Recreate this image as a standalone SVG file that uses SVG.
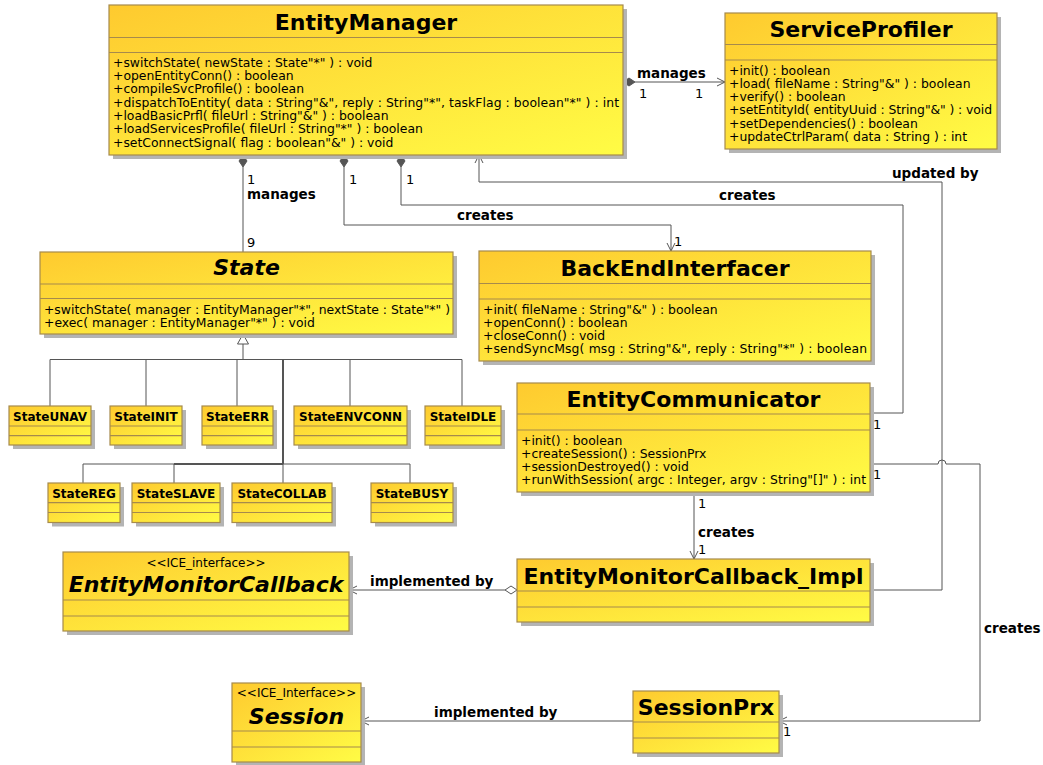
<svg xmlns="http://www.w3.org/2000/svg" width="1043" height="765" viewBox="0 0 1043 765">
<defs>
<linearGradient id="g" x1="0" y1="0" x2="1" y2="1">
<stop offset="0" stop-color="#FECA2F"/>
<stop offset="1" stop-color="#FFFC45"/>
</linearGradient>
<style>
.box{fill:url(#g);stroke:#A68A4C;stroke-width:1.2}
.sh{fill:#B4B4B4}
.sep{stroke:#A68A4C;stroke-width:1.2}
.t{font-family:"DejaVu Sans",sans-serif;font-size:22px;font-weight:bold;text-anchor:middle;fill:#000}
.ti{font-style:italic}
.m{font-family:"DejaVu Sans",sans-serif;font-size:12.4px;fill:#000}
.s{font-family:"DejaVu Sans",sans-serif;font-size:12px;fill:#000;text-anchor:middle}
.sb{font-family:"DejaVu Sans",sans-serif;font-size:12px;font-weight:bold;fill:#000;text-anchor:middle}
.l{font-family:"DejaVu Sans",sans-serif;font-size:13.5px;font-weight:bold;fill:#000}
.n{font-family:"DejaVu Sans",sans-serif;font-size:13px;fill:#000}
.c{fill:none;stroke:#555;stroke-width:1}
.c2{fill:none;stroke:#555;stroke-width:2}
.fd{fill:#555;stroke:#555;stroke-width:1}
.od{fill:#fff;stroke:#555;stroke-width:1}
</style>
</defs>
<rect width="1043" height="765" fill="#fff"/>

<g id="connectors">
<!-- EM -> SP manages -->
<path class="c" d="M635,82 H725"/>
<path class="fd" d="M623,82 L629,78 L635,82 L629,86 Z"/>
<path class="c" d="M717,78 L725,82 L717,86"/>
<text class="l" x="637" y="77.5">manages</text>
<text class="n" x="639" y="97.5">1</text>
<text class="n" x="695" y="97.5">1</text>
<!-- EM -> State manages -->
<path class="c" d="M243,167 V252"/>
<path class="fd" d="M243,155 L247,161 L243,167 L239,161 Z"/>
<text class="n" x="247" y="183.5">1</text>
<text class="l" x="247" y="198.5">manages</text>
<text class="n" x="247" y="246.5">9</text>
<!-- EM -> BEI creates -->
<path class="c" d="M344,167 V225 H671 V251"/>
<path class="fd" d="M344,155 L348,161 L344,167 L340,161 Z"/>
<path class="c" d="M667,243 L671,251 L675,243"/>
<text class="n" x="349" y="183.5">1</text>
<text class="l" x="457" y="219.5">creates</text>
<text class="n" x="674" y="246">1</text>
<!-- EM -> EC creates -->
<path class="c" d="M401,167 V205 H903 V413 H870"/>
<path class="fd" d="M401,155 L405,161 L401,167 L397,161 Z"/>
<text class="n" x="406" y="183.5">1</text>
<text class="l" x="719" y="200">creates</text>
<text class="n" x="873" y="428.5">1</text>
<!-- EMCI -> EM updated by -->
<path class="c" d="M870,590 H942 V182 H479 V155"/>
<path class="c" d="M475,163 L479,155 L483,163"/>
<text class="l" x="892" y="177.5">updated by</text>
<!-- EC -> SessionPrx creates -->
<path class="c" d="M870,464 H938 A4,4 0 0 1 946,464 H980 V721 H779"/>
<path class="c" d="M787,717 L779,721 L787,725"/>
<text class="n" x="873" y="478.5">1</text>
<text class="l" x="984" y="632.5">creates</text>
<text class="n" x="783" y="736">1</text>
<!-- EC -> EMCI creates -->
<path class="c" d="M694,492 V559"/>
<path class="c" d="M690,551 L694,559 L698,551"/>
<text class="n" x="698" y="507.5">1</text>
<text class="l" x="698" y="536.5">creates</text>
<text class="n" x="698" y="554">1</text>
<!-- EMCI -> EMC implemented by -->
<path class="c" d="M505,590 H349"/>
<path class="od" d="M517,590 L511,586 L505,590 L511,594 Z"/>
<path class="c" d="M357,586 L349,590 L357,594"/>
<text class="l" x="370" y="585.5">implemented by</text>
<!-- SessionPrx -> Session implemented by -->
<path class="c" d="M633,721 H361"/>
<path class="c" d="M369,717 L361,721 L369,725"/>
<text class="l" x="434" y="716.5">implemented by</text>
<!-- generalization -->
<path class="od" d="M243,334 L248.5,344 L237.5,344 Z"/>
<path class="c" d="M243,344 V359.5"/>
<path class="c" d="M50,406 V359.5 H462 V406"/>
<path class="c" d="M146,359.5 V406"/>
<path class="c" d="M237,359.5 V406"/>
<path class="c" d="M350,359.5 V406"/>
<path class="c2" d="M283,359.5 V464"/>
<path class="c" d="M83,483 V464 H410 V483"/>
<path class="c2" d="M174,464 H283"/>
<path class="c" d="M174,464 V483"/>
<path class="c" d="M283,464 V483"/>
</g>

<g id="EntityManager">
<rect class="sh" x="113" y="9" width="514" height="150"/>
<rect class="box" x="109" y="5" width="514" height="150"/>
<line class="sep" x1="109" y1="37.5" x2="623" y2="37.5"/>
<line class="sep" x1="109" y1="52.5" x2="623" y2="52.5"/>
<text class="t" x="366" y="29.5">EntityManager</text>
<text class="m" x="113" y="66.5">+switchState( newState : State"*" ) : void</text>
<text class="m" x="113" y="80">+openEntityConn() : boolean</text>
<text class="m" x="113" y="93.3">+compileSvcProfile() : boolean</text>
<text class="m" x="113" y="106.6" textLength="506" lengthAdjust="spacing">+dispatchToEntity( data : String"&amp;", reply : String"*", taskFlag : boolean"*" ) : int</text>
<text class="m" x="113" y="120">+loadBasicPrfl( fileUrl : String"&amp;" ) : boolean</text>
<text class="m" x="113" y="133.3">+loadServicesProfile( fileUrl : String"*" ) : boolean</text>
<text class="m" x="113" y="146.6">+setConnectSignal( flag : boolean"&amp;" ) : void</text>
</g>

<g id="ServiceProfiler">
<rect class="sh" x="729" y="17" width="272" height="136"/>
<rect class="box" x="725" y="13" width="272" height="136"/>
<line class="sep" x1="725" y1="44.5" x2="997" y2="44.5"/>
<line class="sep" x1="725" y1="60" x2="997" y2="60"/>
<text class="t" x="861" y="37">ServiceProfiler</text>
<text class="m" x="729" y="74.5">+init() : boolean</text>
<text class="m" x="729" y="87.8">+load( fileName : String"&amp;" ) : boolean</text>
<text class="m" x="729" y="101.1">+verify() : boolean</text>
<text class="m" x="729" y="114.4" textLength="263" lengthAdjust="spacing">+setEntityId( entityUuid : String"&amp;" ) : void</text>
<text class="m" x="729" y="127.7">+setDependencies() : boolean</text>
<text class="m" x="729" y="141">+updateCtrlParam( data : String ) : int</text>
</g>

<g id="State">
<rect class="sh" x="44" y="256" width="413" height="82"/>
<rect class="box" x="40" y="252" width="413" height="82"/>
<line class="sep" x1="40" y1="284" x2="453" y2="284"/>
<line class="sep" x1="40" y1="298.5" x2="453" y2="298.5"/>
<text class="t ti" x="246.5" y="275">State</text>
<text class="m" x="44" y="313.5" textLength="406" lengthAdjust="spacing">+switchState( manager : EntityManager"*", nextState : State"*" )</text>
<text class="m" x="44" y="327">+exec( manager : EntityManager"*" ) : void</text>
</g>

<g id="BackEndInterfacer">
<rect class="sh" x="483" y="255" width="392" height="110"/>
<rect class="box" x="479" y="251" width="392" height="110"/>
<line class="sep" x1="479" y1="283.5" x2="871" y2="283.5"/>
<line class="sep" x1="479" y1="299" x2="871" y2="299"/>
<text class="t" x="675" y="276">BackEndInterfacer</text>
<text class="m" x="483" y="313.5">+init( fileName : String"&amp;" ) : boolean</text>
<text class="m" x="483" y="327">+openConn() : boolean</text>
<text class="m" x="483" y="340">+closeConn() : void</text>
<text class="m" x="483" y="353.3" textLength="384" lengthAdjust="spacing">+sendSyncMsg( msg : String"&amp;", reply : String"*" ) : boolean</text>
</g>

<g id="EntityCommunicator">
<rect class="sh" x="521" y="387" width="353" height="109"/>
<rect class="box" x="517" y="383" width="353" height="109"/>
<line class="sep" x1="517" y1="414" x2="870" y2="414"/>
<line class="sep" x1="517" y1="430" x2="870" y2="430"/>
<text class="t" x="693.5" y="407">EntityCommunicator</text>
<text class="m" x="521" y="445">+init() : boolean</text>
<text class="m" x="521" y="458">+createSession() : SessionPrx</text>
<text class="m" x="521" y="471.3">+sessionDestroyed() : void</text>
<text class="m" x="521" y="484.3" textLength="345" lengthAdjust="spacing">+runWithSession( argc : Integer, argv : String"[]" ) : int</text>
</g>

<g id="EntityMonitorCallback_Impl">
<rect class="sh" x="521" y="563" width="353" height="63"/>
<rect class="box" x="517" y="559" width="353" height="63"/>
<line class="sep" x1="517" y1="591" x2="870" y2="591"/>
<line class="sep" x1="517" y1="607" x2="870" y2="607"/>
<text class="t" x="693.5" y="583.5">EntityMonitorCallback_Impl</text>
</g>

<g id="EntityMonitorCallback">
<rect class="sh" x="67" y="556" width="286" height="79"/>
<rect class="box" x="63" y="552" width="286" height="79"/>
<line class="sep" x1="63" y1="600" x2="349" y2="600"/>
<line class="sep" x1="63" y1="616" x2="349" y2="616"/>
<text class="s" x="206" y="567">&lt;&lt;ICE_interface&gt;&gt;</text>
<text class="t ti" x="206" y="592">EntityMonitorCallback</text>
</g>

<g id="Session">
<rect class="sh" x="236" y="687" width="129" height="79"/>
<rect class="box" x="232" y="683" width="129" height="79"/>
<line class="sep" x1="232" y1="731" x2="361" y2="731"/>
<line class="sep" x1="232" y1="747" x2="361" y2="747"/>
<text class="s" x="296.5" y="697">&lt;&lt;ICE_Interface&gt;&gt;</text>
<text class="t ti" x="296.5" y="724">Session</text>
</g>

<g id="SessionPrx">
<rect class="sh" x="637" y="695" width="146" height="62"/>
<rect class="box" x="633" y="691" width="146" height="62"/>
<line class="sep" x1="633" y1="722" x2="779" y2="722"/>
<line class="sep" x1="633" y1="738" x2="779" y2="738"/>
<text class="t" x="706" y="714.5">SessionPrx</text>
</g>

<g id="StateUNAV">
<rect class="sh" x="13" y="410" width="82" height="39"/>
<rect class="box" x="9" y="406" width="82" height="39"/>
<line class="sep" x1="9" y1="426" x2="91" y2="426"/>
<line class="sep" x1="9" y1="435.7" x2="91" y2="435.7"/>
<text class="sb" x="50" y="420.5">StateUNAV</text>
</g>
<g id="StateINIT">
<rect class="sh" x="114" y="410" width="72" height="39"/>
<rect class="box" x="110" y="406" width="72" height="39"/>
<line class="sep" x1="110" y1="426" x2="182" y2="426"/>
<line class="sep" x1="110" y1="435.7" x2="182" y2="435.7"/>
<text class="sb" x="146" y="420.5">StateINIT</text>
</g>
<g id="StateERR">
<rect class="sh" x="206" y="410" width="71" height="39"/>
<rect class="box" x="202" y="406" width="71" height="39"/>
<line class="sep" x1="202" y1="426" x2="273" y2="426"/>
<line class="sep" x1="202" y1="435.7" x2="273" y2="435.7"/>
<text class="sb" x="237.5" y="420.5">StateERR</text>
</g>
<g id="StateENVCONN">
<rect class="sh" x="298" y="410" width="113" height="39"/>
<rect class="box" x="294" y="406" width="113" height="39"/>
<line class="sep" x1="294" y1="426" x2="407" y2="426"/>
<line class="sep" x1="294" y1="435.7" x2="407" y2="435.7"/>
<text class="sb" x="350.5" y="420.5">StateENVCONN</text>
</g>
<g id="StateIDLE">
<rect class="sh" x="429" y="410" width="76" height="39"/>
<rect class="box" x="425" y="406" width="76" height="39"/>
<line class="sep" x1="425" y1="426" x2="501" y2="426"/>
<line class="sep" x1="425" y1="435.7" x2="501" y2="435.7"/>
<text class="sb" x="463" y="420.5">StateIDLE</text>
</g>
<g id="StateREG">
<rect class="sh" x="52" y="487" width="72" height="39.5"/>
<rect class="box" x="48" y="483" width="72" height="39.5"/>
<line class="sep" x1="48" y1="502.7" x2="120" y2="502.7"/>
<line class="sep" x1="48" y1="512.5" x2="120" y2="512.5"/>
<text class="sb" x="84" y="497.5">StateREG</text>
</g>
<g id="StateSLAVE">
<rect class="sh" x="136" y="487" width="88" height="39.5"/>
<rect class="box" x="132" y="483" width="88" height="39.5"/>
<line class="sep" x1="132" y1="502.7" x2="220" y2="502.7"/>
<line class="sep" x1="132" y1="512.5" x2="220" y2="512.5"/>
<text class="sb" x="176" y="497.5">StateSLAVE</text>
</g>
<g id="StateCOLLAB">
<rect class="sh" x="236" y="487" width="100" height="39.5"/>
<rect class="box" x="232" y="483" width="100" height="39.5"/>
<line class="sep" x1="232" y1="502.7" x2="332" y2="502.7"/>
<line class="sep" x1="232" y1="512.5" x2="332" y2="512.5"/>
<text class="sb" x="282" y="497.5">StateCOLLAB</text>
</g>
<g id="StateBUSY">
<rect class="sh" x="375" y="487" width="82" height="39.5"/>
<rect class="box" x="371" y="483" width="82" height="39.5"/>
<line class="sep" x1="371" y1="502.7" x2="453" y2="502.7"/>
<line class="sep" x1="371" y1="512.5" x2="453" y2="512.5"/>
<text class="sb" x="412" y="497.5">StateBUSY</text>
</g>
</svg>
